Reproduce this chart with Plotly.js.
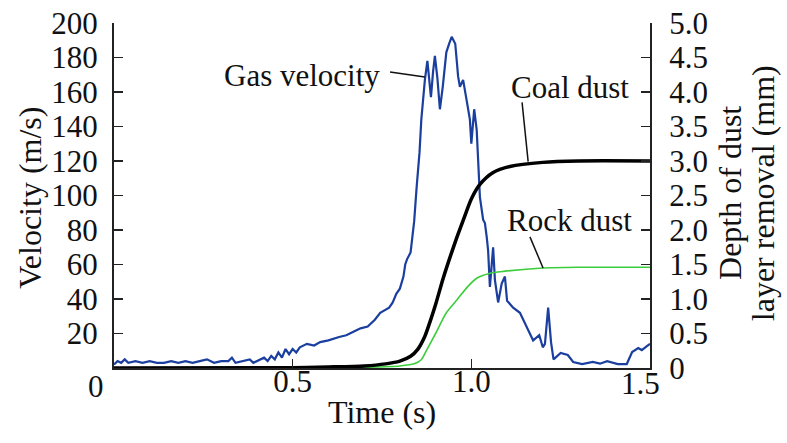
<!DOCTYPE html>
<html>
<head>
<meta charset="utf-8">
<script src="https://cdn.plot.ly/plotly-3.0.1.min.js"></script>
<style>html,body{margin:0;padding:0;background:#fff;}#chart{width:787px;height:443px;}</style>
</head>
<body>
<div id="chart"></div>
<script>
// Gas velocity (m/s), left axis
var gasTime = [0,0.01,0.02,0.03,0.04,0.06,0.08,0.1,0.12,0.14,0.16,0.18,0.2,0.22,0.24,0.26,0.28,0.3,0.32,0.33,0.34,0.36,0.38,0.39,0.4,0.42,0.43,0.44,0.45,0.46,0.47,0.48,0.49,0.5,0.51,0.52,0.54,0.56,0.577,0.6,0.63,0.65,0.67,0.69,0.71,0.73,0.745,0.77,0.78,0.79,0.8,0.81,0.815,0.82,0.83,0.84,0.847,0.855,0.86,0.87,0.877,0.882,0.887,0.893,0.898,0.905,0.912,0.92,0.925,0.93,0.938,0.945,0.955,0.963,0.968,0.977,0.987,0.996,1.0,1.008,1.015,1.02,1.024,1.033,1.038,1.043,1.047,1.052,1.057,1.061,1.066,1.075,1.085,1.094,1.1,1.117,1.136,1.155,1.173,1.19,1.2,1.206,1.215,1.223,1.23,1.25,1.27,1.285,1.31,1.34,1.36,1.38,1.41,1.435,1.45,1.467,1.477,1.495,1.5];
var gasVelocity = [2,4,3,5,3,4,3,4,3,3,4,3,4,3,4,5,3,4,4,6,3,4,5,3,4,6,4,7,5,9,6,11,8,11,9,12,14,13,15,16,18,19,21,23,24,28,32,35,38,43,46,53,60,63,67,85,105,125,144,167,178,165,157,172,181,168,150,163,172,183,188,192,188,169,163,167,155,144,130,150,138,115,99,86,84,76,68,47,62,70,51,38,49,53,39,35,32,24,16,19,12,14,35,15,5,8.7,7.5,3.5,2.3,3.5,2.5,4,2.3,2.3,9.3,11.6,10.4,13.3,14];

// Depth of dust layer removal (mm), right axis
var coalTime = [0,0.5,0.6,0.7,0.76,0.8,0.83,0.85,0.87,0.885,0.9,0.92,0.94,0.96,0.98,1.0,1.024,1.06,1.108,1.2,1.3,1.5];
var coalDepth = [0,0.005,0.015,0.03,0.06,0.1,0.17,0.27,0.46,0.68,0.92,1.28,1.6,1.9,2.18,2.45,2.66,2.83,2.92,2.98,3.0,3.0];
var rockTime = [0,0.6,0.7,0.8,0.84,0.86,0.875,0.9,0.93,0.96,0.99,1.015,1.05,1.09,1.2,1.3,1.5];
var rockDepth = [0,0,0.01,0.03,0.06,0.12,0.26,0.5,0.8,0.99,1.18,1.3,1.37,1.4,1.45,1.46,1.46];

var leftTicks = [20,40,60,80,100,120,140,160,180,200];
var rightTicks = [0,0.5,1,1.5,2,2.5,3,3.5,4,4.5,5];
var rightTickText = ["0","0.5","1.0","1.5","2.0","2.5","3.0","3.5","4.0","4.5","5.0"];
var xTicks = [0.5,1.0];
var xTickText = ["0.5","1.0"];

var F = "Liberation Serif, Times New Roman, serif";

var traces = [
  {x: gasTime, y: gasVelocity, type: 'scatter', mode: 'lines', line: {color: '#1b3f9e', width: 2.2}, yaxis: 'y', hoverinfo: 'skip'},
  {x: rockTime, y: rockDepth, type: 'scatter', mode: 'lines', line: {color: '#3ccd3c', width: 1.6, shape: 'spline', smoothing: 0.7}, yaxis: 'y2', hoverinfo: 'skip'},
  {x: coalTime, y: coalDepth, type: 'scatter', mode: 'lines', line: {color: '#000000', width: 3.5, shape: 'spline', smoothing: 0.7}, yaxis: 'y2', hoverinfo: 'skip'}
];

var layout = {
  width: 787, height: 443,
  margin: {l: 114, r: 137, t: 23, b: 75},
  paper_bgcolor: '#fff', plot_bgcolor: '#fff',
  showlegend: false,
  font: {family: F, size: 31, color: '#111'},
  xaxis: {
    range: [0, 1.5], showgrid: false, zeroline: false,
    showline: true, linecolor: '#222', linewidth: 2,
    ticks: 'inside', ticklen: 9, tickwidth: 1.5, tickcolor: '#222',
    tickvals: xTicks, ticktext: xTickText,
    tickfont: {family: F, size: 31, color: '#111'}, ticklabelstandoff: -15
  },
  yaxis: {
    range: [0, 200], showgrid: false, zeroline: false,
    showline: true, linecolor: '#222', linewidth: 2,
    ticks: 'inside', ticklen: 9, tickwidth: 1.5, tickcolor: '#222',
    tickvals: leftTicks,
    tickfont: {family: F, size: 31, color: '#111'}, ticklabelstandoff: 8
  },
  yaxis2: {
    range: [0, 5], overlaying: 'y', side: 'right', showgrid: false, zeroline: false,
    showline: true, linecolor: '#222', linewidth: 2,
    ticks: 'inside', ticklen: 9, tickwidth: 1.5, tickcolor: '#222',
    tickvals: rightTicks, ticktext: rightTickText,
    tickfont: {family: F, size: 31, color: '#111'}, ticklabelstandoff: 11
  },
  annotations: [
    {xref: 'paper', yref: 'paper', x: -0.157, y: 0.493, text: 'Velocity (m/s)', textangle: -90, showarrow: false, xanchor: 'center', yanchor: 'middle', font: {family: F, size: 32, color: '#111'}},
    {xref: 'paper', yref: 'paper', x: 1.149, y: 0.507, text: 'Depth of dust', textangle: -90, showarrow: false, xanchor: 'center', yanchor: 'middle', font: {family: F, size: 32, color: '#111'}},
    {xref: 'paper', yref: 'paper', x: 1.211, y: 0.507, text: 'layer removal (mm)', textangle: -90, showarrow: false, xanchor: 'center', yanchor: 'middle', font: {family: F, size: 32, color: '#111'}},
    {xref: 'paper', yref: 'paper', x: 0.5, y: -0.1275, text: 'Time (s)', showarrow: false, xanchor: 'center', yanchor: 'middle', font: {family: F, size: 32, color: '#111'}},
    {xref: 'paper', yref: 'paper', x: -0.0336, y: -0.055, text: '0', showarrow: false, xanchor: 'center', yanchor: 'middle', font: {family: F, size: 31, color: '#111'}},
    {xref: 'paper', yref: 'paper', x: 0.983, y: -0.046, text: '1.5', showarrow: false, xanchor: 'center', yanchor: 'middle', font: {family: F, size: 31, color: '#111'}},
    {xref: 'paper', yref: 'paper', x: (302-114)/536, y: (368-75)/345, text: 'Gas velocity', showarrow: false, xanchor: 'center', yanchor: 'middle', font: {family: F, size: 31, color: '#111'}},
    {xref: 'paper', yref: 'paper', x: (570-114)/536, y: (368-88)/345, text: 'Coal dust', showarrow: false, xanchor: 'center', yanchor: 'middle', font: {family: F, size: 31, color: '#111'}},
    {xref: 'paper', yref: 'paper', x: (569-114)/536, y: (368-220)/345, text: 'Rock dust', showarrow: false, xanchor: 'center', yanchor: 'middle', font: {family: F, size: 31, color: '#111'}}
  ],
  shapes: [
    {type: 'line', xref: 'x', yref: 'y', x0: 0.7725, y0: 171.6, x1: 0.87, y1: 168.7, line: {color: '#111', width: 1.5}},
    {type: 'line', xref: 'x', yref: 'y2', x0: 1.142, y0: 3.85, x1: 1.159, y1: 2.99, line: {color: '#111', width: 1.5}},
    {type: 'line', xref: 'x', yref: 'y2', x0: 1.164, y0: 1.90, x1: 1.2007, y1: 1.45, line: {color: '#111', width: 1.5}}
  ]
};

Plotly.newPlot('chart', traces, layout, {staticPlot: true, displayModeBar: false});
</script>
</body>
</html>
